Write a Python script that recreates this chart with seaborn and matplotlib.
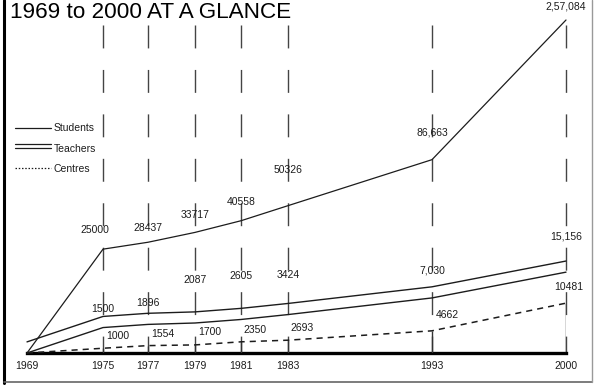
import numpy as np
import matplotlib
matplotlib.use("Agg")
import matplotlib.pyplot as plt
import matplotlib.patheffects as pe
from matplotlib.lines import Line2D
import seaborn as sns

# Values
years = [1969, 1975, 1977, 1979, 1981, 1983, 1993, 2000]
students = [0, 25000, 28437, 33717, 40558, 50326, 86663, 257084]
teachers = [0, 1500, 1896, 2087, 2605, 3424, 7030, 15156]
centres = [0, 1000, 1554, 1700, 2350, 2693, 4662, 10481]
student_labels = ["", "25000", "28437", "33717", "40558", "50326", "86,663", "2,57,084"]
teacher_labels = ["", "1500", "1896", "2087", "2605", "3424", "7,030", "15,156"]
centre_labels = ["", "1000", "1554", "1700", "2350", "2693", "4662", "10481"]

# the year columns are not evenly spaced in the original drawing
year_spacing = [0, 76, 121, 168, 214, 261, 405, 539]

sns.set_theme(style="white")
plt.rcParams["font.family"] = ["Liberation Sans", "DejaVu Sans"]
ink = "#1c1c1c"

fig = plt.figure(figsize=(5.97, 3.87), dpi=100)
ax = fig.add_axes([27 / 597, 1 - 353 / 387, 539 / 597, 333 / 387])
ax.set_xscale("function", functions=(lambda x: np.interp(x, years, year_spacing),
                                     lambda p: np.interp(p, year_spacing, years)))
ax.set_yscale("function", functions=(lambda v: np.sqrt(np.clip(v, 0, None)),
                                     lambda s: np.square(s)))
ax2 = ax.twinx()

# vertical dashed guide lines
for yr in years[1:]:
    ax.plot([yr, yr], [0.985, 0], transform=ax.get_xaxis_transform(), color="#444",
            lw=1.0, linestyle=(0, (16.5, 15.5)), clip_on=False, zorder=1)
ax2.vlines(years[1:], 0, centres[1:], color="#333", lw=1.0, zorder=1)

sns.lineplot(x=years, y=students, ax=ax, color=ink, lw=0.9, clip_on=False, zorder=3)
sns.lineplot(x=years, y=teachers, ax=ax, color=ink, lw=1.0, clip_on=False, zorder=3,
             path_effects=[pe.SimpleLineShadow(offset=(0, 8), shadow_color=ink, alpha=1),
                           pe.Normal()])
sns.lineplot(x=years, y=centres, ax=ax2, color=ink, lw=1.1, linestyle=(0, (4, 3.3)),
             clip_on=False, zorder=3)

ax.set_xlim(1969, 2000)
ax.set_ylim(0, 257084)
ax2.set_ylim(0, 70000)

# value labels
st_off = [None, (-6, 10), (0, 7), (0, 9), (0, 10), (0, 22), (0, 16), (0, 6)]
te_off = [None, (0, 10), (0, 12), (0, 27), (0, 28), (0, 25), (0, 16), (0, 22)]
ce_off = [None, (2, 5), (2, 5), (2, 5.5), (2, 5), (2, 5.5), (3, 8), (2, 8)]
for i in range(1, len(years)):
    ax.annotate(student_labels[i], (years[i], students[i]), xytext=st_off[i],
                textcoords="offset points", ha="center", va="bottom", fontsize=7.5, color=ink)
    ax.annotate(teacher_labels[i], (years[i], teachers[i]), xytext=te_off[i],
                textcoords="offset points", ha="center", va="bottom", fontsize=7.5, color=ink)
    ax2.annotate(centre_labels[i], (years[i], centres[i]), xytext=ce_off[i],
                 textcoords="offset points", ha="center" if i == len(years) - 1 else "left",
                 va="bottom", fontsize=7.5, color=ink)

ax.set_xticks(years)
ax.set_xticklabels([str(y) for y in years], fontsize=7.5, color=ink)
ax.tick_params(axis="x", length=0, pad=6)
ax.set_yticks([])
ax2.set_yticks([])
ax.set_xlabel("")
ax.set_ylabel("")
ax2.set_ylabel("")
for a in (ax, ax2):
    for s in ("top", "left", "right", "bottom"):
        a.spines[s].set_visible(False)
ax.spines["bottom"].set_visible(True)
ax.spines["bottom"].set_linewidth(2.4)
ax.spines["bottom"].set_color("black")
ax.patch.set_alpha(0)
ax2.patch.set_alpha(0)

# legend
handles = [
    Line2D([], [], color=ink, lw=0.9),
    Line2D([], [], color=ink, lw=0.9,
           path_effects=[pe.SimpleLineShadow(offset=(0, 2.6), shadow_color=ink, alpha=1),
                         pe.Normal()]),
    Line2D([], [], color=ink, lw=0.9, linestyle=(0, (1.2, 1.4))),
]
fig.legend(handles, ["Students", "Teachers", "Centres"], loc="upper left",
           bbox_to_anchor=(10 / 597, 1 - 118 / 387), frameon=False, fontsize=7.5,
           handlelength=3.4, handletextpad=0.3, labelspacing=1.0, borderpad=0,
           labelcolor=ink)

fig.text(10 / 597, 1 - 13 / 387, "1969 to 2000 AT A GLANCE", fontsize=16.2,
         va="center", ha="left", color="black")

# scanned page border
fig.add_artist(Line2D([4 / 597, 4 / 597], [0.01, 1], color="black", lw=2.2))
fig.add_artist(Line2D([4 / 597, 592 / 597], [1 - 382 / 387] * 2, color="#666", lw=1.2))
fig.add_artist(Line2D([592 / 597, 592 / 597], [1 - 382 / 387, 1], color="#999", lw=1.0))

fig.savefig("out.png", dpi=100)
